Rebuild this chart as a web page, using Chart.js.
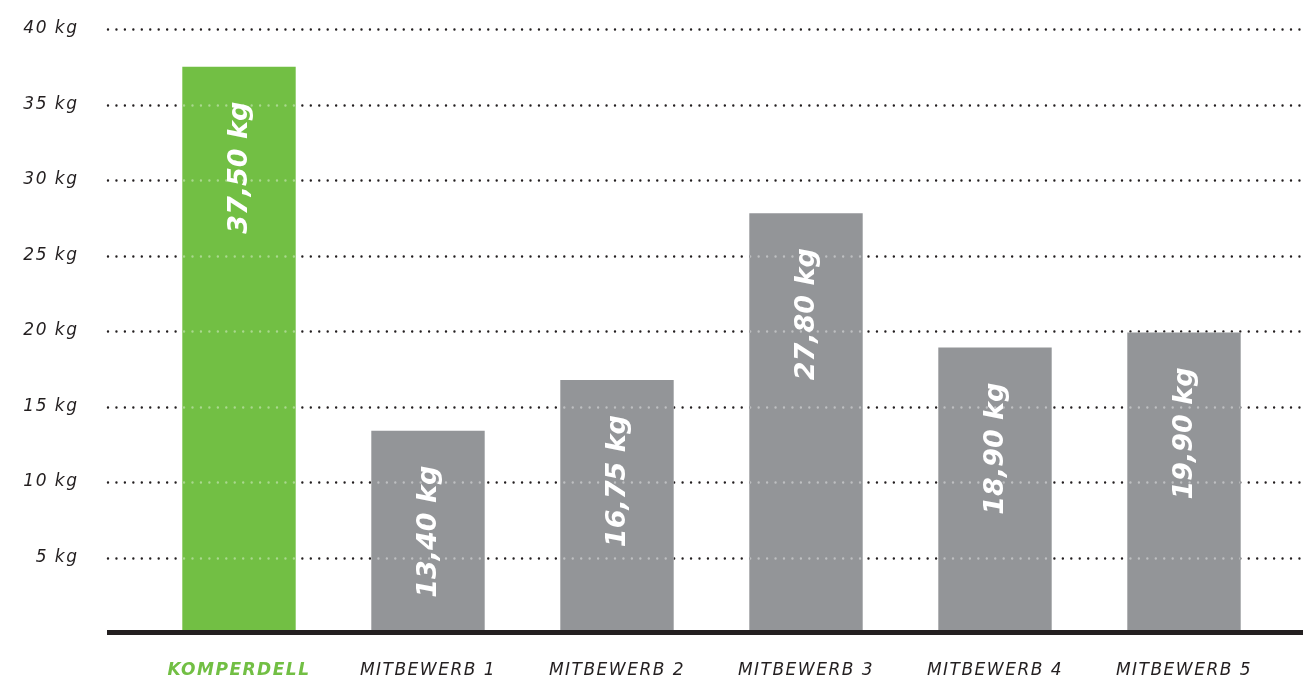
<!DOCTYPE html>
<html>
<head>
<meta charset="utf-8">
<script src="https://cdn.jsdelivr.net/npm/chart.js@4.4.1/dist/chart.umd.min.js"></script>
<style>
  html, body { margin: 0; padding: 0; background: #fff; }
  #wrap { width: 1303px; height: 680px; }
</style>
</head>
<body>
<div id="wrap"><canvas id="weightChart"></canvas></div>
<script>
// chart values
const brands = ['KOMPERDELL', 'MITBEWERB 1', 'MITBEWERB 2', 'MITBEWERB 3', 'MITBEWERB 4', 'MITBEWERB 5'];
const weights = [37.5, 13.4, 16.75, 27.8, 18.9, 19.9];
const yMax = 40;
const yStep = 5;

const green = '#72bf44';
const grey = '#939598';
const ink = '#231f20';
const font = '"DejaVu Sans"';

function kg(v) {
  return v.toFixed(2).replace('.', ',') + ' kg';
}

function dottedLines(chart, color) {
  const ctx = chart.ctx;
  const y = chart.scales.y;
  ctx.save();
  ctx.strokeStyle = color;
  ctx.lineWidth = 2.4;
  ctx.lineCap = 'round';
  ctx.setLineDash([0, 8.45]);
  y.ticks.forEach(t => {
    if (t.value === 0) return;
    const py = Math.round(y.getPixelForValue(t.value)) + 0.5;
    ctx.beginPath();
    ctx.moveTo(108, py);
    ctx.lineTo(chart.width, py);
    ctx.stroke();
  });
  ctx.restore();
}

const gridPlugin = {
  id: 'dottedGrid',
  beforeDraw(chart) {
    // spaced out axis labels
    chart.ctx.letterSpacing = '1.5px';
  },
  beforeDatasetsDraw(chart) {
    chart.ctx.letterSpacing = '0px';
    dottedLines(chart, ink);
  },
  afterDatasetsDraw(chart) {
    const ctx = chart.ctx;
    const bars = chart.getDatasetMeta(0).data;
    // lighter dots where the grid crosses the bars
    bars.forEach(bar => {
      const p = bar.getProps(['x', 'y', 'base', 'width'], true);
      ctx.save();
      ctx.beginPath();
      ctx.rect(p.x - p.width / 2, p.y, p.width, p.base - p.y);
      ctx.clip();
      dottedLines(chart, 'rgba(255,255,255,0.4)');
      ctx.restore();
    });
    // baseline
    ctx.save();
    ctx.fillStyle = ink;
    ctx.fillRect(107, chart.scales.y.getPixelForValue(0) - 3, chart.width - 107, 5);
    ctx.restore();
    // rotated value labels
    bars.forEach((bar, i) => {
      const p = bar.getProps(['x', 'y'], true);
      ctx.save();
      ctx.translate(p.x + 1, p.y + 35);
      ctx.rotate(-Math.PI / 2);
      ctx.font = 'italic bold 27px ' + font;
      ctx.fillStyle = '#fff';
      ctx.textAlign = 'right';
      ctx.textBaseline = 'middle';
      ctx.fillText(kg(weights[i]), 0, 0);
      ctx.restore();
    });
  }
};

new Chart(document.getElementById('weightChart'), {
  type: 'bar',
  data: {
    labels: brands,
    datasets: [{
      data: weights,
      backgroundColor: weights.map((v, i) => i === 0 ? green : grey),
      borderWidth: 0,
      barPercentage: 0.6,
      categoryPercentage: 1
    }]
  },
  options: {
    responsive: true,
    maintainAspectRatio: false,
    animation: false,
    layout: { padding: { top: 29, right: 24.5, left: 0, bottom: 0 } },
    plugins: {
      legend: { display: false },
      tooltip: { enabled: false }
    },
    scales: {
      x: {
        grid: { display: false, drawTicks: false },
        border: { display: false },
        afterFit(scale) { scale.height = 47; },
        ticks: {
          padding: 27,
          maxRotation: 0,
          autoSkip: false,
          color: ctx => ctx.index === 0 ? green : ink,
          font: ctx => ({
            family: font,
            size: 17,
            style: 'italic',
            weight: ctx.index === 0 ? 'bold' : 'normal'
          })
        }
      },
      y: {
        min: 0,
        max: yMax,
        grid: { display: false, drawTicks: false },
        border: { display: false },
        afterFit(scale) {
          scale.width = 144.5;
          // the big tick padding would otherwise also pad top and bottom
          scale.paddingTop = 0;
          scale.paddingBottom = 0;
        },
        ticks: {
          stepSize: yStep,
          padding: 66,
          color: ink,
          font: { family: font, size: 17, style: 'italic' },
          callback: v => v === 0 ? '' : v + ' kg'
        }
      }
    }
  },
  plugins: [gridPlugin]
});
</script>
</body>
</html>
